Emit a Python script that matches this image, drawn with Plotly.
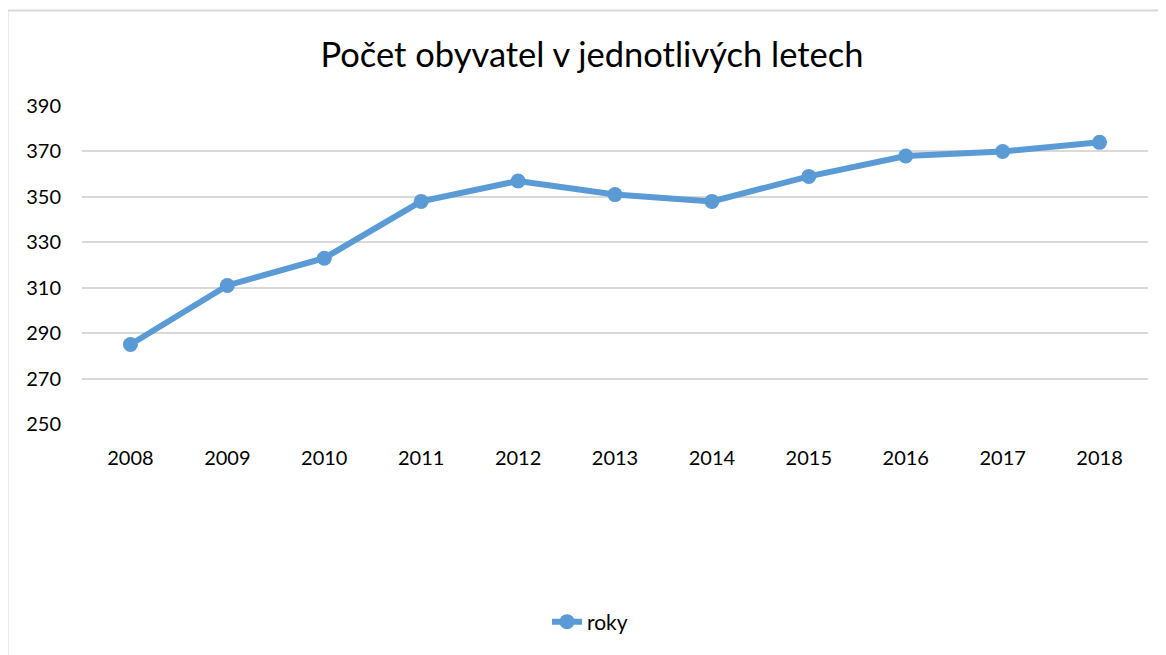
import plotly.graph_objects as go

years = ["2008", "2009", "2010", "2011", "2012", "2013", "2014", "2015", "2016", "2017", "2018"]
population = [285, 311, 323, 348, 357, 351, 348, 359, 368, 370, 374]
series_name = "roky"
title_text = "Počet obyvatel v jednotlivých letech"
y_ticks = [250, 270, 290, 310, 330, 350, 370, 390]

# page has an 8px body offset; work in page coordinates and convert
OFF = 8
PW, PH = 1166, 655
W, H = PW - OFF, PH - OFF
L, R, T, B = 82 - OFF, 18, 106 - OFF, 655 - 424
pw, ph = W - L - R, H - T - B

def px_x(x):
    return (x - OFF - L) / pw

def px_y(y):
    return (H - B - (y - OFF)) / ph

fig = go.Figure()
fig.add_trace(go.Scatter(
    x=years, y=population, name=series_name, mode="lines+markers",
    line=dict(color="#5B9BD5", width=6),
    marker=dict(color="#5B9BD5", size=15),
    showlegend=True,
))

fig.update_layout(
    width=W, height=H,
    margin=dict(l=L, r=R, t=T, b=B),
    paper_bgcolor="white", plot_bgcolor="white",
    font=dict(family="Lato, 'Open Sans', sans-serif", color="#000000", size=20),
    title=dict(text=title_text, x=((322 + 862) / 2 - OFF) / W, xanchor="center",
               y=1 - (55 - OFF) / H, yanchor="middle",
               font=dict(size=34.5, color="#000000")),
    xaxis=dict(type="category", range=[-0.5, len(years) - 0.5], showgrid=False,
               zeroline=False, showline=False,
               ticks="", ticklabelstandoff=20, tickfont=dict(size=20)),
    yaxis=dict(range=[250, 390], tickvals=y_ticks, showgrid=True,
               gridcolor="#D9D9D9", gridwidth=1.5, zeroline=False, showline=False,
               ticks="", ticklabelstandoff=20, tickfont=dict(size=20)),
    legend=dict(orientation="h", x=px_x(590), xanchor="center",
                y=px_y(622), yanchor="middle", font=dict(size=21),
                bgcolor="rgba(0,0,0,0)"),
    showlegend=True,
)

# chart area border (top and left visible)
fig.add_shape(type="line", xref="paper", yref="paper",
              x0=px_x(7.5), x1=px_x(1166), y0=px_y(10.5), y1=px_y(10.5),
              line=dict(color="#D9D9D9", width=2))
fig.add_shape(type="line", xref="paper", yref="paper",
              x0=px_x(7.5), x1=px_x(7.5), y0=px_y(10.5), y1=px_y(655),
              line=dict(color="#D9D9D9", width=2))

fig.write_html("out.html")
